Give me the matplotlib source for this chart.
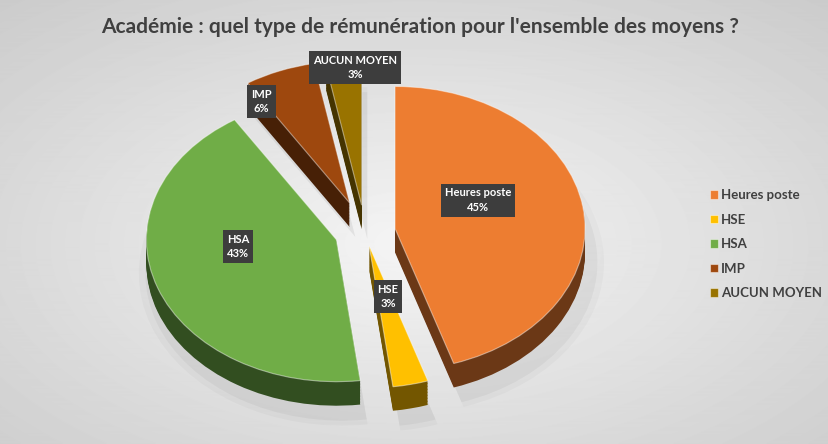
import matplotlib.pyplot as plt
import numpy as np
from matplotlib.colors import to_rgb

# data
labels = ['Heures poste', 'HSE', 'HSA', 'IMP', 'AUCUN MOYEN']
values = [45, 3, 43, 6, 3]
colors = ['#ED7D31', '#FFC000', '#70AD47', '#9E480E', '#997300']
explode = [0.16, 0.10, 0.16, 0.22, 0.19]

# label placement (angle clockwise from top, radius) relative to each wedge tip
label_ang = [65.4, 164.4, 264.6, 327, 357.9]
label_rad = [0.48, 0.37, 0.52, 0.85, 0.97]

W, H = 829, 444
cx, cy = 365, 232      # pie centre in pixels
rx, ry = 190, 142      # pie radius in pixels (squashed)
depth = 24 / ry

plt.rcParams['font.family'] = ['Lato', 'DejaVu Sans']

fig = plt.figure(figsize=(W / 100, H / 100), dpi=100)

# soft grey background
bg = fig.add_axes([0, 0, 1, 1])
yy, xx = np.mgrid[0:H, 0:W]
d = np.sqrt(((xx - W * 0.5) / W) ** 2 + ((yy - H * 0.55) / H) ** 2)
bg.imshow(0.96 - 0.22 * d, cmap='gray', vmin=0, vmax=1, aspect='auto')
bg.axis('off')

ax = fig.add_axes([0, 0, 1, 1])
ax.patch.set_alpha(0)

def darker(c, f):
    r, g, b = to_rgb(c)
    return (r * f, g * f, b * f)

side_colors = [darker(c, 0.45) for c in colors]

# faint shadow
for k, a in [(1.07, 0.025), (1.035, 0.04)]:
    ax.pie(values, explode=explode, colors=['black'] * 5, startangle=90,
           counterclock=False, radius=k, center=(0.03, -depth - 0.07),
           wedgeprops=dict(linewidth=0, alpha=a))

# extruded sides
for k in np.linspace(depth, 0.01, 16):
    ax.pie(values, explode=explode, colors=side_colors, startangle=90,
           counterclock=False, center=(0, -k), wedgeprops=dict(linewidth=0))

# top faces
wedges, _ = ax.pie(values, explode=explode, colors=colors, startangle=90,
                   counterclock=False,
                   wedgeprops=dict(linewidth=0.8, edgecolor=(1, 1, 1, 0.45)))

# data labels
cum = np.cumsum([0] + values) / sum(values) * 360
for i, lab in enumerate(labels):
    mid = np.radians((cum[i] + cum[i + 1]) / 2)
    tx, ty = explode[i] * np.sin(mid), explode[i] * np.cos(mid)
    a = np.radians(label_ang[i])
    tx += label_rad[i] * np.sin(a)
    ty += label_rad[i] * np.cos(a)
    ax.text(tx, ty, f'{lab}\n{values[i]}%', ha='center', va='center',
            color='white', fontsize=8, fontweight='bold', linespacing=1.35,
            bbox=dict(boxstyle='square,pad=0.35', fc='#3d3d3d', ec='none'))

ax.set_xlim((0 - cx) / rx, (W - cx) / rx)
ax.set_ylim((cy - H) / ry, cy / ry)
ax.set_aspect('auto')
ax.axis('off')

fig.text(0.507, 0.94, "Académie : quel type de rémunération pour l'ensemble des moyens ?",
         ha='center', va='center', fontsize=15, fontweight='bold', color='#404040')

leg = ax.legend(wedges, labels, loc='center left', bbox_to_anchor=(0.842, 0.45),
                bbox_transform=fig.transFigure, frameon=False,
                handlelength=0.6, handleheight=0.6, handletextpad=0.25,
                labelspacing=0.95, prop={'weight': 'bold', 'size': 9.5})
for t in leg.get_texts():
    t.set_color('#404040')

fig.savefig('out.png', dpi=100)
